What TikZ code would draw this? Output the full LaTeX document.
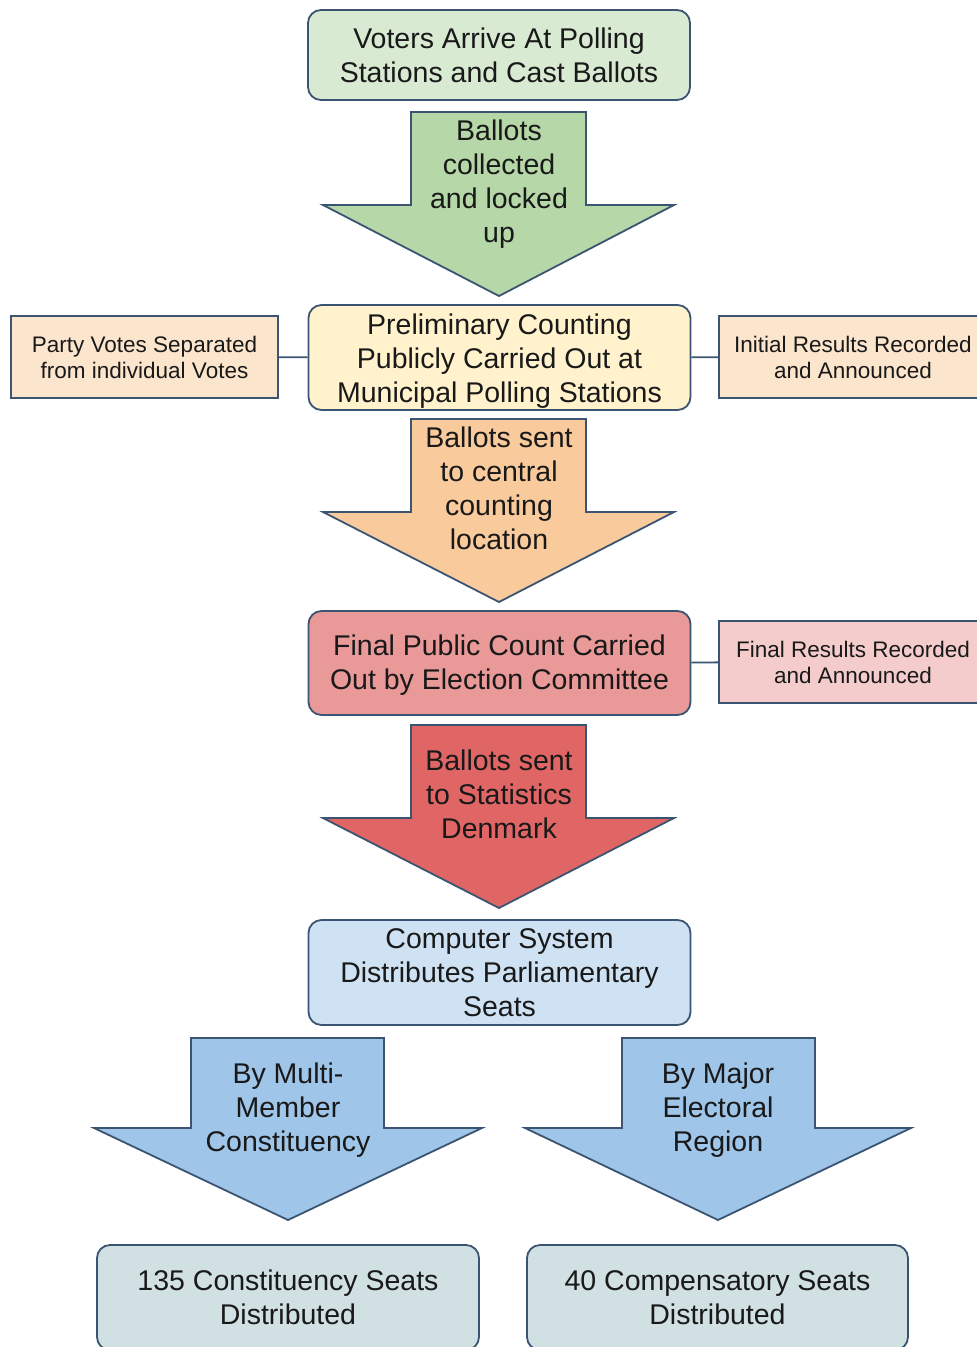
\documentclass[tikz,border=0pt]{standalone}
\usepackage{fontspec}
\setmainfont{Liberation Sans}
\usepackage{tikz}

\definecolor{edge}{HTML}{3A5471}
\definecolor{votegreen}{HTML}{D9EAD3}
\definecolor{arrowgreen}{HTML}{B6D7A8}
\definecolor{countyellow}{HTML}{FFF2CC}
\definecolor{notepeach}{HTML}{FCE5CD}
\definecolor{arroworange}{HTML}{F9CB9C}
\definecolor{finalred}{HTML}{EA9999}
\definecolor{notepink}{HTML}{F4CCCC}
\definecolor{arrowred}{HTML}{E06666}
\definecolor{compblue}{HTML}{CFE2F3}
\definecolor{arrowblue}{HTML}{9FC5E8}
\definecolor{seatgrey}{HTML}{D0E0E3}

\newcommand{\stagefont}{\fontsize{28.5}{34}\selectfont}
\newcommand{\notefont}{\fontsize{22.5}{26}\selectfont}
\newcommand{\toppad}[1]{\rule{0pt}{#1}}

\tikzset{
  boxtext/.style={align=center, inner sep=0pt, text=black!90},
  stage/.style={boxtext, draw=edge, line width=1.8pt, rounded corners=13pt,
    minimum width=382pt, minimum height=105pt, font=\stagefont},
  note/.style={boxtext, draw=edge, line width=1.8pt,
    minimum width=268pt, minimum height=82pt, font=\notefont},
  blockarrow/.style={draw=edge, line width=1.8pt, line join=miter},
  arrowtext/.style={boxtext, font=\stagefont},
  link/.style={draw=edge, line width=1.8pt}
}

\begin{document}
\begin{tikzpicture}[x=1pt, y=-1pt]
\useasboundingbox (0,0) rectangle (977,1347);
\clip (0,0) rectangle (977,1347);

% big arrows
\draw[blockarrow, fill=arrowgreen] (411,112) -- (586,112) -- (586,205) -- (674,205)
  -- (499,296) -- (323,205) -- (411,205) -- cycle;
\draw[blockarrow, fill=arroworange] (411,419) -- (586,419) -- (586,512) -- (674,512)
  -- (499,602) -- (323,512) -- (411,512) -- cycle;
\draw[blockarrow, fill=arrowred] (411,725) -- (586,725) -- (586,818) -- (674,818)
  -- (499,908) -- (323,818) -- (411,818) -- cycle;
\draw[blockarrow, fill=arrowblue] (191,1038) -- (384,1038) -- (384,1128) -- (482,1128)
  -- (288,1220) -- (94,1128) -- (191,1128) -- cycle;
\draw[blockarrow, fill=arrowblue] (622,1038) -- (815,1038) -- (815,1128) -- (911,1128)
  -- (718,1220) -- (525,1128) -- (622,1128) -- cycle;

\path (499,55) node[stage, fill=votegreen, minimum height=90pt] (arrive)
        {Voters Arrive At Polling\\Stations and Cast Ballots}
      (499,184) node[arrowtext] (collect) {Ballots\\collected\\and locked\\up}
      (499.5,357.5) node[stage, fill=countyellow] (prelim)
        {\toppad{28pt}Preliminary Counting\\Publicly Carried Out at\\Municipal Polling Stations}
      (144.5,357) node[note, minimum width=267pt, fill=notepeach] (party)
        {Party Votes Separated\\from individual Votes}
      (853,357) node[note, fill=notepeach] (initial)
        {Initial Results Recorded\\and Announced}
      (499,488.5) node[arrowtext] (central) {Ballots sent\\to central\\counting\\location}
      (499.5,663) node[stage, fill=finalred, minimum height=104pt] (final)
        {\toppad{25pt}Final Public Count Carried\\Out by Election Committee}
      (853,662) node[note, fill=notepink] (finalres)
        {Final Results Recorded\\and Announced}
      (499,794) node[arrowtext] (stats) {Ballots sent\\to Statistics\\Denmark}
      (499.5,972.5) node[stage, fill=compblue] (computer)
        {Computer System\\Distributes Parliamentary\\Seats}
      (288,1110) node[arrowtext] (multi) {By Multi-\\Member\\Constituency}
      (718,1110) node[arrowtext] (major) {By Major\\Electoral\\Region}
      (288,1297.5) node[stage, fill=seatgrey] (seats135)
        {135 Constituency Seats\\Distributed}
      (717.5,1297.5) node[stage, fill=seatgrey, minimum width=381pt] (seats40)
        {40 Compensatory Seats\\Distributed};

\draw[link] (party) -- (prelim);
\draw[link] (prelim) -- (initial);
\draw[link] (final) -- (finalres);
\end{tikzpicture}
\end{document}
